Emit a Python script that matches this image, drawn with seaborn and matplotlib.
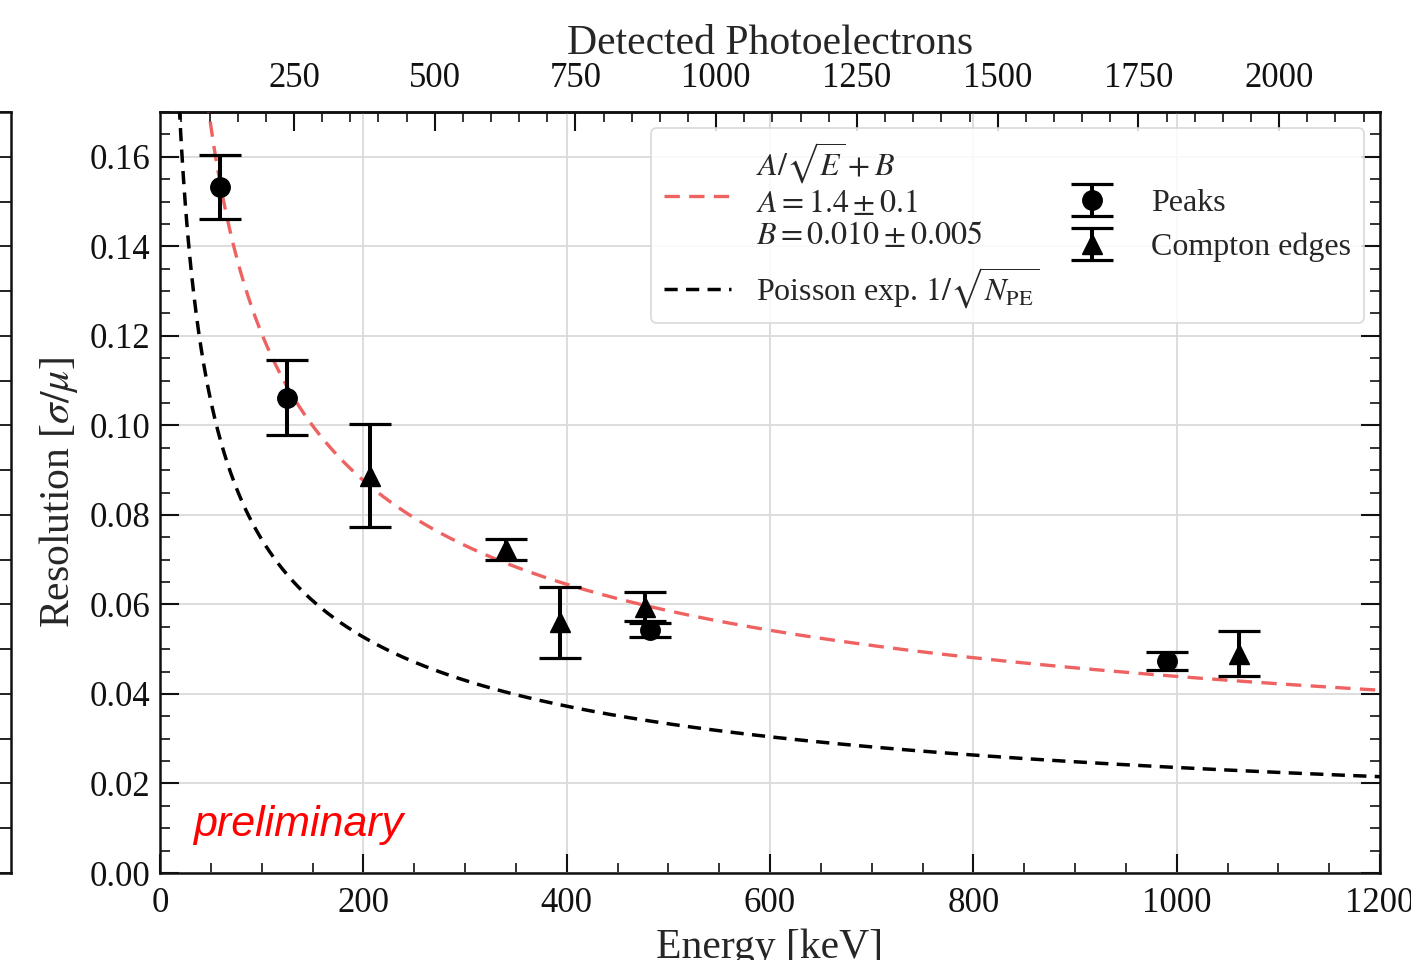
import numpy as np
import pandas as pd
import matplotlib
matplotlib.use("Agg")
import matplotlib.pyplot as plt
import seaborn as sns
from matplotlib.ticker import MultipleLocator

# ---------------- data ----------------
peak_energy = [59.5, 124.5, 482.0, 990.0]
peak_res = [0.1532, 0.1062, 0.0543, 0.0474]
peak_err = [0.0072, 0.0083, 0.0016, 0.0020]

edge_energy = [207.0, 340.5, 393.0, 477.0, 1061.5]
edge_res = [0.0887, 0.0723, 0.0560, 0.0595, 0.0490]
edge_err = [0.0115, 0.0023, 0.0080, 0.0032, 0.0050]

# fitted model curve parameters (as drawn) and photoelectron calibration
fit_A = 1.12
fit_B = 0.0085
pe_per_keV = 1.80
npe_slope = 1.806
npe_offset = 12.0

top_ticks = [250, 500, 750, 1000, 1250, 1500, 1750, 2000]

fit_label = "$A/\\sqrt{E}+B$\n$A = 1.4 \\pm 0.1$\n$B = 0.010 \\pm 0.005$"
poisson_label = "Poisson exp. $1/\\sqrt{N_{\\mathrm{PE}}}$"
peaks_label = "Peaks"
edges_label = "Compton edges"
xlabel = "Energy [keV]"
ylabel = "Resolution [$\\sigma/\\mu$]"
toplabel = "Detected Photoelectrons"
watermark = "preliminary"

# ---------------- style ----------------
sns.set_style("ticks")
plt.rcParams["font.family"] = ["Liberation Serif", "DejaVu Serif"]
plt.rcParams["mathtext.fontset"] = "stix"
plt.rcParams["axes.linewidth"] = 1.8
plt.rcParams["axes.edgecolor"] = "#111111"
plt.rcParams["xtick.color"] = "#111111"
plt.rcParams["ytick.color"] = "#111111"

fig = plt.figure(figsize=(14.11, 9.6), dpi=100)
ax = fig.add_axes([160 / 1411, 1 - 873 / 960, 1220 / 1411, 761 / 960])

# partial neighbouring panel at the left edge
ax0 = fig.add_axes([11 / 1411 - 0.3, 1 - 873 / 960, 0.3, 761 / 960])
ax0.set_ylim(0, 0.17)
ax0.set_xticks([])
ax0.yaxis.set_major_locator(MultipleLocator(0.01))
ax0.tick_params(axis="y", which="both", left=False, right=True, labelleft=False,
                direction="in", length=8, width=1.3)
for s in ax0.spines.values():
    s.set_linewidth(1.8)

# curves
E = np.linspace(1, 1200, 2400)
curves = pd.DataFrame({
    "E": E,
    "fit": fit_A / np.sqrt(E) + fit_B,
    "poisson": 1 / np.sqrt(pe_per_keV * E),
})

sns.lineplot(data=curves, x="E", y="fit", ax=ax, color="#ef6262", lw=2.4,
             linestyle=(0, (4.6, 2.8)), label=fit_label, zorder=3)
sns.lineplot(data=curves, x="E", y="poisson", ax=ax, color="black", lw=2.5,
             linestyle=(0, (3.8, 2.4)), label=poisson_label, zorder=3)

# data points with error bars
ax.errorbar(peak_energy, peak_res, yerr=peak_err, fmt="o", color="black",
            ms=14, elinewidth=2.9, capsize=15, capthick=2.3, label=peaks_label,
            zorder=4)
ax.errorbar(edge_energy, edge_res, yerr=edge_err, fmt="^", color="black",
            ms=14, elinewidth=2.9, capsize=15, capthick=2.3, label=edges_label,
            zorder=4)

ax.set_xlim(0, 1200)
ax.set_ylim(0, 0.17)
ax.xaxis.set_major_locator(MultipleLocator(200))
ax.xaxis.set_minor_locator(MultipleLocator(50))
ax.yaxis.set_major_locator(MultipleLocator(0.02))
ax.yaxis.set_minor_locator(MultipleLocator(0.005))
ax.yaxis.set_major_formatter(matplotlib.ticker.FormatStrFormatter("%.2f"))
ax.grid(True, which="major", color="#dadada", lw=1.3, zorder=0)
ax.set_axisbelow(True)

ax.tick_params(axis="both", which="both", direction="in", labelsize=25)
ax.tick_params(axis="x", which="both", top=False, bottom=True, pad=10)
ax.tick_params(axis="y", which="both", left=True, right=True, pad=7)
ax.tick_params(which="major", length=13.5, width=1.5)
ax.tick_params(which="minor", length=7, width=1.2)

ax.set_xlabel(xlabel, fontsize=30, labelpad=6)
ax.set_ylabel(ylabel, fontsize=30, labelpad=7)

# secondary (top) axis: detected photoelectrons
secax = ax.secondary_xaxis(
    "top",
    functions=(lambda e: npe_slope * e + npe_offset,
               lambda n: (n - npe_offset) / npe_slope),
)
secax.set_xticks(top_ticks)
secax.xaxis.set_minor_locator(MultipleLocator(50))
secax.tick_params(axis="x", which="both", direction="in", labelsize=25)
secax.tick_params(which="major", length=13.5, width=1.5, pad=12)
secax.tick_params(which="minor", length=7, width=1.2)
secax.set_xlabel(toplabel, fontsize=30, labelpad=6)

# watermark
ax.text(0.027, 0.063, watermark, transform=ax.transAxes, color="red",
        fontsize=31, fontstyle="italic", family=["Liberation Sans", "DejaVu Sans"],
        ha="left", va="center")

# legend
handles, labels = ax.get_legend_handles_labels()
leg = ax.legend(handles, labels, loc="upper right", ncol=2, fontsize=23,
                frameon=True, fancybox=True, framealpha=0.85,
                edgecolor="#d6d6d6", handlelength=2.1, handletextpad=0.8,
                columnspacing=0.6, labelspacing=0.45, borderpad=0.4,
                borderaxespad=0.5)
leg.get_frame().set_linewidth(1.3)
leg.get_texts()[0].set_linespacing(1.1)
leg._legend_handle_box.align = "center"

fig.savefig("out.png", dpi=100)
